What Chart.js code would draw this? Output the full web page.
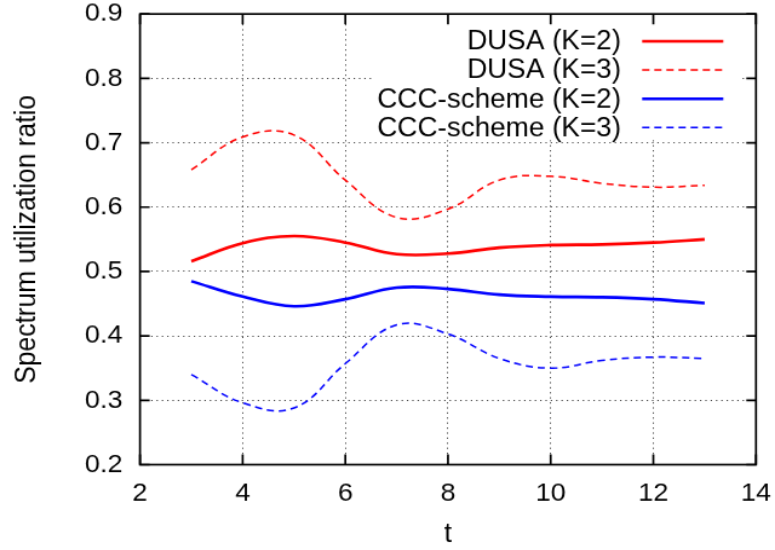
<!DOCTYPE html>
<html>
	<head>
		<meta charset="UTF-8" />
		<title>Spectrum utilization ratio</title>
		<script src="https://cdn.jsdelivr.net/npm/chart.js@4/dist/chart.umd.min.js"></script>
		<style type="text/css">
			body { margin: 0; background: #fff; }
			/* the plot is laid out on a 640x480 canvas and shown at 775x550,
			   like the original gnuplot png that was stretched */
			#myChart { display: block; width: 775px; height: 550px; }
		</style>
	</head>
	<body>
		<canvas id="myChart" width="640" height="480" style="width: 775px; height: 550px;"></canvas>

		<script>
			// values
			var tValues = [3, 4, 5, 6, 7, 8, 9, 10, 11, 12, 13];
			var dusaK2 = [0.516, 0.544, 0.555, 0.545, 0.527, 0.528, 0.537, 0.541, 0.542, 0.545, 0.550];
			var dusaK3 = [0.658, 0.709, 0.712, 0.642, 0.584, 0.597, 0.642, 0.648, 0.637, 0.631, 0.634];
			var cccK2 = [0.485, 0.461, 0.446, 0.457, 0.475, 0.473, 0.464, 0.461, 0.460, 0.457, 0.451];
			var cccK3 = [0.340, 0.296, 0.288, 0.357, 0.417, 0.403, 0.365, 0.350, 0.362, 0.367, 0.365];
			var seriesLabels = ["DUSA (K=2)", "DUSA (K=3)", "CCC-scheme (K=2)", "CCC-scheme (K=3)"];
			var xTicks = [2, 4, 6, 8, 10, 12, 14];
			var yTicks = [0.2, 0.3, 0.4, 0.5, 0.6, 0.7, 0.8, 0.9];

			function toPoints(vals) {
				return vals.map(function (v, i) { return { x: tValues[i], y: v }; });
			}
		</script>

		<script>
		const ctx = document.getElementById('myChart').getContext('2d');
		const FONT = "'Liberation Sans', Arial, sans-serif";

		function noPad(s) {
			s.paddingTop = 0; s.paddingBottom = 0;
			s.paddingLeft = 0; s.paddingRight = 0;
		}

		// gnuplot-like frame, inward ticks and key box
		const gnuFrame = {
			id: 'gnuFrame',
			beforeDatasetsDraw(chart) {
				const a = chart.chartArea, c = chart.ctx;
				c.save();
				c.fillStyle = '#fff';
				c.fillRect(307, a.top + 1, a.right - 12 - 307, 109);
				c.restore();
			},
			afterDraw(chart) {
				const a = chart.chartArea, c = chart.ctx;
				const xs = chart.scales.x, ys = chart.scales.y;
				c.save();
				c.strokeStyle = '#000';
				c.lineWidth = 1.7;
				c.setLineDash([]);
				c.beginPath();
				xTicks.forEach(function (v) {
					const px = xs.getPixelForValue(v);
					c.moveTo(px, a.bottom); c.lineTo(px, a.bottom - 9);
					c.moveTo(px, a.top); c.lineTo(px, a.top + 9);
				});
				yTicks.forEach(function (v) {
					const py = ys.getPixelForValue(v);
					c.moveTo(a.left, py); c.lineTo(a.left + 8, py);
					c.moveTo(a.right, py); c.lineTo(a.right - 8, py);
				});
				c.stroke();
				c.strokeRect(a.left, a.top, a.right - a.left, a.bottom - a.top);

				// key
				c.font = '23px ' + FONT;
				c.fillStyle = '#000';
				c.textAlign = 'right';
				c.textBaseline = 'middle';
				chart.data.datasets.forEach(function (ds, i) {
					const y = a.top + 23.8 + i * 25.1;
					c.fillText(ds.label, a.right - 111.5, y + 1);
					c.strokeStyle = ds.borderColor;
					c.lineWidth = ds.borderWidth;
					c.setLineDash(ds.borderDash || []);
					c.beginPath();
					c.moveTo(a.right - 94, y);
					c.lineTo(a.right - 27, y);
					c.stroke();
				});
				c.restore();
			}
		};

		const config = {
			type: 'line',
			data: {
				datasets: [{
					label: seriesLabels[0],
					data: toPoints(dusaK2),
					borderColor: '#ff0000',
					borderWidth: 2.6,
					borderDash: []
				}, {
					label: seriesLabels[1],
					data: toPoints(dusaK3),
					borderColor: '#ff0000',
					borderWidth: 1.5,
					borderDash: [6, 4]
				}, {
					label: seriesLabels[2],
					data: toPoints(cccK2),
					borderColor: '#0000ff',
					borderWidth: 2.6,
					borderDash: []
				}, {
					label: seriesLabels[3],
					data: toPoints(cccK3),
					borderColor: '#0000ff',
					borderWidth: 1.5,
					borderDash: [6, 4]
				}]
			},
			options: {
				responsive: false,
				animation: false,
				devicePixelRatio: 1,
				elements: {
					point: { radius: 0 },
					line: { tension: 0.4, fill: false }
				},
				layout: { padding: { top: 12.2, right: 15.7, left: 0, bottom: 0 } },
				plugins: {
					legend: { display: false },
					tooltip: { enabled: false }
				},
				scales: {
					x: {
						type: 'linear',
						min: 2,
						max: 14,
						afterBuildTicks: function (s) { s.ticks = xTicks.map(function (v) { return { value: v }; }); },
						afterFit: function (s) { s.height = 74.5; noPad(s); },
						ticks: { color: '#000', font: { family: FONT, size: 22.5 }, padding: 12, maxRotation: 0 },
						grid: { color: 'rgba(0,0,0,0.7)', lineWidth: 1, drawTicks: false },
						border: { display: false, dash: [1.2, 3.2] },
						title: { display: true, text: 't', color: '#000', font: { family: FONT, size: 23 }, padding: { top: 0, bottom: 0 } }
					},
					y: {
						min: 0.2,
						max: 0.9,
						afterBuildTicks: function (s) { s.ticks = yTicks.map(function (v) { return { value: v }; }); },
						afterFit: function (s) { s.width = 115.6; noPad(s); },
						ticks: {
							color: '#000',
							font: { family: FONT, size: 22.5 },
							padding: 14.3,
							callback: function (v) { return v.toFixed(1); }
						},
						grid: { color: 'rgba(0,0,0,0.7)', lineWidth: 1, drawTicks: false },
						border: { display: false, dash: [1.2, 3.2] },
						title: { display: true, text: 'Spectrum utilization ratio', color: '#000', font: { family: FONT, size: 23 }, padding: { top: 9.3, bottom: 0 } }
					}
				}
			},
			plugins: [gnuFrame]
		};

		const myChart = new Chart(ctx, config);
		</script>
	</body>
</html>
